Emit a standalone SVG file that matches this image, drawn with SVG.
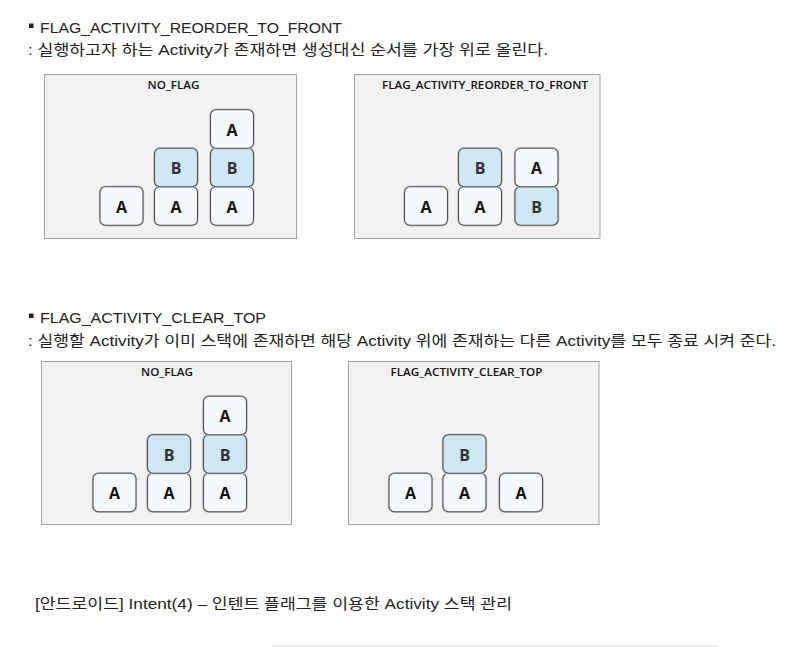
<svg xmlns="http://www.w3.org/2000/svg" width="804" height="647" viewBox="0 0 804 647">
  <style>
    .h { font-family: "Liberation Sans", "Noto Sans CJK KR", sans-serif; font-size: 15px; fill: #222; }
    .d { font-family: "Liberation Sans", "Noto Sans CJK KR", sans-serif; font-size: 15px; fill: #222; }
    .panel { fill: #f2f2f2; stroke: #a3a3a3; stroke-width: 1; }
    .pt { font-family: "Open Sans", "Noto Sans", sans-serif; font-size: 11.5px; font-weight: 600; fill: #111; text-anchor: middle; }
    .box { stroke: #505050; stroke-width: 1.1; }
    .sh { fill: none; stroke: #c8c8c8; stroke-width: 2.4; }
    .a { fill: #f5f9fd; }
    .b { fill: #cfe6f3; }
    .bt { font-family: "Open Sans", "Noto Sans", sans-serif; font-size: 16px; font-weight: 700; text-anchor: middle; }
    .at { fill: #111; }
    .btx { fill: #333; }
  </style>
  <defs>
    <g id="boxA">
      <rect class="sh" x="0" y="0" width="43" height="38.5" rx="5.5"/>
      <rect class="box a" x="0" y="0" width="43" height="38.5" rx="5.5"/>
      <text class="bt at" x="21.5" y="26">A</text>
    </g>
    <g id="boxB">
      <rect class="sh" x="0" y="0" width="43" height="38.5" rx="5.5"/>
      <rect class="box b" x="0" y="0" width="43" height="38.5" rx="5.5"/>
      <text class="bt btx" x="21.5" y="26">B</text>
    </g>
  </defs>
  <rect x="0" y="0" width="804" height="647" fill="#ffffff"/>

  <!-- Section 1 heading -->
  <g id="heading1">
    <rect x="29" y="23.5" width="4.5" height="4.5" fill="#222"/>
    <text class="h" x="40" y="32.5" textLength="302" lengthAdjust="spacingAndGlyphs">FLAG_ACTIVITY_REORDER_TO_FRONT</text>
    <text class="d" x="28" y="55" textLength="520" lengthAdjust="spacingAndGlyphs">: 실행하고자 하는 Activity가 존재하면 생성대신 순서를 가장 위로 올린다.</text>
  </g>

  <!-- Panel 1 -->
  <g id="panel1">
    <rect class="panel" x="44.5" y="74.5" width="252" height="164"/>
    <text class="pt" x="173.5" y="89" textLength="52" lengthAdjust="spacingAndGlyphs">NO_FLAG</text>
    <g id="p1-c1-a"><use href="#boxA" x="100" y="186.8"/></g>
    <g id="p1-c2-a"><use href="#boxA" x="154.5" y="186.8"/></g>
    <g id="p1-c2-b"><use href="#boxB" x="154.5" y="148.3"/></g>
    <g id="p1-c3-a1"><use href="#boxA" x="210.5" y="186.8"/></g>
    <g id="p1-c3-b"><use href="#boxB" x="210.5" y="148.3"/></g>
    <g id="p1-c3-a2"><use href="#boxA" x="210.5" y="109.8"/></g>
  </g>

  <!-- Panel 2 -->
  <g id="panel2">
    <rect class="panel" x="354.5" y="74.5" width="245.5" height="164"/>
    <text class="pt" x="485" y="89" textLength="206" lengthAdjust="spacingAndGlyphs">FLAG_ACTIVITY_REORDER_TO_FRONT</text>
    <g id="p2-c1-a"><use href="#boxA" x="404.5" y="186.8"/></g>
    <g id="p2-c2-a"><use href="#boxA" x="458.5" y="186.8"/></g>
    <g id="p2-c2-b"><use href="#boxB" x="458.5" y="148.3"/></g>
    <g id="p2-c3-b"><use href="#boxB" x="515" y="186.8"/></g>
    <g id="p2-c3-a"><use href="#boxA" x="515" y="148.3"/></g>
  </g>

  <!-- Section 2 heading -->
  <g id="heading2">
    <rect x="29" y="313.5" width="4.5" height="4.5" fill="#222"/>
    <text class="h" x="40" y="323" textLength="226" lengthAdjust="spacingAndGlyphs">FLAG_ACTIVITY_CLEAR_TOP</text>
    <text class="d" x="28" y="345.5" textLength="748" lengthAdjust="spacingAndGlyphs">: 실행할 Activity가 이미 스택에 존재하면 해당 Activity 위에 존재하는 다른 Activity를 모두 종료 시켜 준다.</text>
  </g>

  <!-- Panel 3 -->
  <g id="panel3">
    <rect class="panel" x="41.5" y="361.5" width="250" height="163"/>
    <text class="pt" x="167" y="376" textLength="52" lengthAdjust="spacingAndGlyphs">NO_FLAG</text>
    <g id="p3-c1-a"><use href="#boxA" x="93" y="473.3"/></g>
    <g id="p3-c2-a"><use href="#boxA" x="147.5" y="473.3"/></g>
    <g id="p3-c2-b"><use href="#boxB" x="147.5" y="434.8"/></g>
    <g id="p3-c3-a1"><use href="#boxA" x="203.5" y="473.3"/></g>
    <g id="p3-c3-b"><use href="#boxB" x="203.5" y="434.8"/></g>
    <g id="p3-c3-a2"><use href="#boxA" x="203.5" y="396.3"/></g>
  </g>

  <!-- Panel 4 -->
  <g id="panel4">
    <rect class="panel" x="348.5" y="361.5" width="250.5" height="163"/>
    <text class="pt" x="466.5" y="376" textLength="152" lengthAdjust="spacingAndGlyphs">FLAG_ACTIVITY_CLEAR_TOP</text>
    <g id="p4-c1-a"><use href="#boxA" x="389" y="473.3"/></g>
    <g id="p4-c2-a"><use href="#boxA" x="443" y="473.3"/></g>
    <g id="p4-c2-b"><use href="#boxB" x="443" y="434.8"/></g>
    <g id="p4-c3-a"><use href="#boxA" x="499.5" y="473.3"/></g>
  </g>

  <!-- Footer -->
  <g id="footer">
    <text class="d" x="35" y="609" textLength="477" lengthAdjust="spacingAndGlyphs">[안드로이드] Intent(4) – 인텐트 플래그를 이용한 Activity 스택 관리</text>
    <line x1="272" y1="646" x2="718" y2="646" stroke="#dcdcdc" stroke-width="1"/>
  </g>
</svg>
